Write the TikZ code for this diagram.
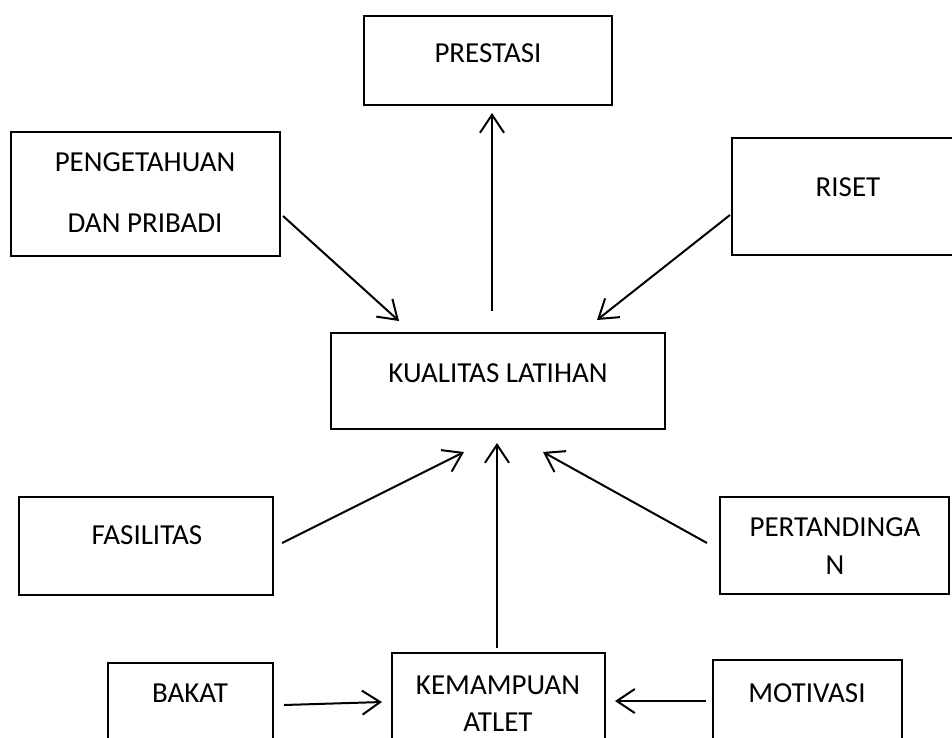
\documentclass[tikz,border=0pt]{standalone}
\usepackage{fontspec}
\setmainfont{Carlito}
\usetikzlibrary{arrows.meta}
\tikzset{
  box/.style={draw=black, line width=2.6pt, rectangle, inner sep=0pt, outer sep=0pt, fill=white},
  lbl/.style={inner sep=0pt, align=center, font=\fontsize{29pt}{37pt}\selectfont},
  arr/.style={draw=black, line width=2pt, -{Straight Barb[length=18pt, width=24pt, line width=2pt]}}
}
\begin{document}
\begin{tikzpicture}[x=1pt, y=-1pt]
\clip (0,0) rectangle (952,738);
\fill[white] (0,0) rectangle (952,738);
% boxes
\node[box, minimum width=248pt, minimum height=89pt] (pres) at (488,60.5) {};
\node[box, minimum width=269pt, minimum height=124pt] (peng) at (145.5,194) {};
\node[box, minimum width=232pt, minimum height=117pt] (riset) at (848,196.5) {};
\node[box, minimum width=334pt, minimum height=96pt] (kual) at (498,381) {};
\node[box, minimum width=254pt, minimum height=98pt] (fas) at (146,546) {};
\node[box, minimum width=229pt, minimum height=97pt] (pert) at (834.5,545.5) {};
\node[box, minimum width=165pt, minimum height=97pt] (bakat) at (190.5,711.5) {};
\node[box, minimum width=213pt, minimum height=107pt] (kem) at (498.5,706.5) {};
\node[box, minimum width=189pt, minimum height=100pt] (mot) at (807.5,710) {};
% labels
\node[lbl] (presT) at (488,53) {PRESTASI};
\node[lbl, font=\fontsize{29pt}{61pt}\selectfont] (pengT) at (145,192.5) {PENGETAHUAN\\DAN PRIBADI};
\node[lbl] (risetT) at (848,187) {RISET};
\node[lbl] (kualT) at (498,373) {KUALITAS LATIHAN};
\node[lbl] (fasT) at (147,535) {FASILITAS};
\node[lbl, font=\fontsize{29pt}{38pt}\selectfont] (pertT) at (835,546) {PERTANDINGA\\N};
\node[lbl] (bakatT) at (190,693) {BAKAT};
\node[lbl] (kemT) at (498,703.5) {KEMAMPUAN\\ATLET};
\node[lbl] (motT) at (807,693) {MOTIVASI};
% connectors
\draw[arr] ([shift={(3,22)}]peng.east) -- ([shift={(-99,-12)}]kual.north);
\draw[arr] ([shift={(-2,18.5)}]riset.west) -- ([shift={(99,-13)}]kual.north);
\draw[arr] ([shift={(-6,-22)}]kual.north) -- ([shift={(4,8)}]pres.south);
\draw[arr] ([shift={(9,-3)}]fas.east) -- ([shift={(-34,23)}]kual.south);
\draw[arr] ([shift={(-13,-2.5)}]pert.west) -- ([shift={(45,23)}]kual.south);
\draw[arr] ([shift={(-1.5,-5)}]kem.north) -- ([shift={(-1,14)}]kual.south);
\draw[arr] ([shift={(11,-6.5)}]bakat.east) -- ([shift={(-10,-4.5)}]kem.west);
\draw[arr] ([shift={(-7,-9)}]mot.west) -- ([shift={(10,-5.5)}]kem.east);
\end{tikzpicture}
\end{document}
